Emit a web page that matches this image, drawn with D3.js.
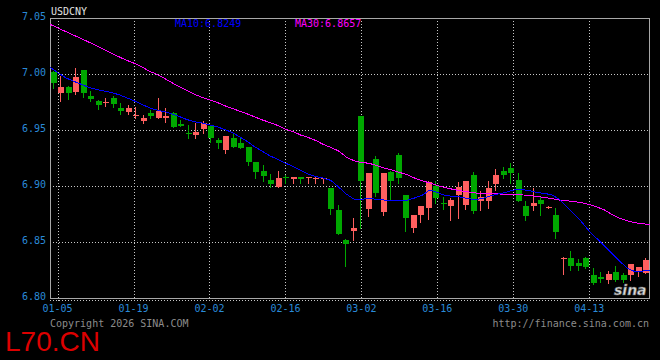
<!DOCTYPE html>
<html>
<head>
<meta charset="utf-8">
<script src="https://cdn.jsdelivr.net/npm/d3@7"></script>
<style>
  body { margin: 0; background: #000; }
  svg { display: block; }
  text { font-family: 'DejaVu Sans Mono', monospace; font-size: 10px; }
</style>
</head>
<body>
<svg id="chart" width="660" height="360"></svg>
<script>
var symbol = 'USDCNY'

var open = [7.0021, 6.9833, 6.9884, 6.9842, 7.0036, 6.9806, 6.9759, 6.9744, 6.9788, 6.9694,
  6.9663, 6.9625, 6.9583, 6.9652, 6.9604, 6.9604, 6.9655, 6.9554, 6.9476, 6.9455,
  6.9509, 6.9536, 6.9411, 6.9321, 6.9426, 6.9387, 6.9345, 6.9217, 6.9134, 6.9054,
  6.8988, 6.9080, 6.9063, 6.9083, 6.9069, 6.9070, 6.9068, 6.8985, 6.8786, 6.8518,
  6.8598, 6.9625, 6.8795, 6.9241, 6.8771, 6.9128, 6.9277, 6.8920, 6.8628, 6.8741,
  6.8806, 6.9000, 6.8846, 6.8824, 6.8920, 6.8830, 6.9098, 6.8866, 6.8866, 6.9018,
  6.9137, 6.9163, 6.9054, 6.8821, 6.8824, 6.8875, 6.8806, 6.8741, 6.8346, 6.8360,
  6.8310, 6.8360, 6.8205, 6.8190, 6.8160, 6.8235, 6.8205, 6.8205, 6.8229, 6.8220]

var high = [7.0025, 6.9985, 6.9893, 7.0054, 7.0040, 6.9848, 6.9765, 6.9786, 6.9806, 6.9744,
  6.9723, 6.9708, 6.9634, 6.9676, 6.9788, 6.9694, 6.9660, 6.9589, 6.9545, 6.9565,
  6.9583, 6.9540, 6.9429, 6.9446, 6.9476, 6.9426, 6.9350, 6.9217, 6.9187, 6.9107,
  6.9134, 6.9098, 6.9083, 6.9083, 6.9083, 6.9078, 6.9075, 6.8985, 6.8830, 6.8527,
  6.8714, 6.9625, 6.9116, 6.9270, 6.9116, 6.9130, 6.9292, 6.8920, 6.8741, 6.8824,
  6.9047, 6.9045, 6.8899, 6.8890, 6.9038, 6.9045, 6.9128, 6.8958, 6.9045, 6.9149,
  6.9173, 6.9203, 6.9113, 6.8866, 6.8985, 6.8904, 6.8821, 6.8801, 6.8363, 6.8420,
  6.8348, 6.8369, 6.8270, 6.8235, 6.8241, 6.8286, 6.8220, 6.8304, 6.8280, 6.8354]

var low = [6.9872, 6.9762, 6.9774, 6.9821, 6.9797, 6.9762, 6.9690, 6.9712, 6.9708, 6.9643,
  6.9643, 6.9604, 6.9565, 6.9604, 6.9604, 6.9574, 6.9525, 6.9538, 6.9431, 6.9431,
  6.9470, 6.9396, 6.9342, 6.9297, 6.9351, 6.9342, 6.9187, 6.9074, 6.9047, 6.8988,
  6.8988, 6.9030, 6.9024, 6.9024, 6.9024, 6.9024, 6.9024, 6.8750, 6.8571, 6.8286,
  6.8518, 6.8622, 6.8735, 6.8911, 6.8741, 6.8875, 6.9030, 6.8600, 6.8592, 6.8679,
  6.8705, 6.8846, 6.8795, 6.8696, 6.8717, 6.8795, 6.8762, 6.8786, 6.8806, 6.8964,
  6.9069, 6.9030, 6.8869, 6.8696, 6.8786, 6.8741, 6.8806, 6.8538, 6.8214, 6.8250,
  6.8250, 6.8270, 6.8122, 6.8146, 6.8137, 6.8154, 6.8146, 6.8160, 6.8196, 6.8220]

var close = [6.9922, 6.9884, 6.9828, 6.9973, 6.9830, 6.9779, 6.9726, 6.9753, 6.9735, 6.9672,
  6.9694, 6.9634, 6.9604, 6.9622, 6.9672, 6.9625, 6.9530, 6.9538, 6.9464, 6.9485,
  6.9565, 6.9431, 6.9381, 6.9446, 6.9351, 6.9342, 6.9217, 6.9128, 6.9092, 6.9018,
  6.9071, 6.9074, 6.9083, 6.9063, 6.9083, 6.9075, 6.9072, 6.8795, 6.8571, 6.8482,
  6.8628, 6.9047, 6.9116, 6.8938, 6.9116, 6.9047, 6.9074, 6.8717, 6.8741, 6.8824,
  6.9038, 6.8896, 6.8837, 6.8875, 6.8994, 6.9045, 6.8777, 6.8904, 6.8985, 6.9098,
  6.9098, 6.9119, 6.8869, 6.8735, 6.8851, 6.8839, 6.8815, 6.8592, 6.8354, 6.8288,
  6.8286, 6.8274, 6.8131, 6.8170, 6.8214, 6.8160, 6.8160, 6.8300, 6.8280, 6.8339]

var ma10 = [7.0060, 7.0013, 6.9969, 6.9938, 6.9911, 6.9884, 6.9864, 6.9850, 6.9835, 6.9817,
  6.9790, 6.9763, 6.9732, 6.9701, 6.9679, 6.9665, 6.9645, 6.9621, 6.9594, 6.9574,
  6.9563, 6.9545, 6.9529, 6.9504, 6.9478, 6.9438, 6.9397, 6.9348, 6.9308, 6.9268,
  6.9237, 6.9205, 6.9174, 6.9140, 6.9105, 6.9085, 6.9071, 6.9049, 6.8991, 6.8929,
  6.8884, 6.8881, 6.8890, 6.8880, 6.8875, 6.8875, 6.8866, 6.8871, 6.8893, 6.8917,
  6.8964, 6.8944, 6.8915, 6.8908, 6.8902, 6.8888, 6.8877, 6.8890, 6.8911, 6.8929,
  6.8942, 6.8964, 6.8969, 6.8960, 6.8944, 6.8933, 6.8924, 6.8884, 6.8817, 6.8750,
  6.8679, 6.8598, 6.8531, 6.8464, 6.8396, 6.8328, 6.8268, 6.8235, 6.8240, 6.8249]

var ma30 = [7.0444, 7.0413, 7.0381, 7.0350, 7.0320, 7.0288, 7.0256, 7.0221, 7.0188, 7.0156,
  7.0125, 7.0098, 7.0067, 7.0027, 7.0000, 6.9964, 6.9924, 6.9888, 6.9854, 6.9820,
  6.9792, 6.9770, 6.9747, 6.9717, 6.9692, 6.9668, 6.9643, 6.9616, 6.9589, 6.9565,
  6.9540, 6.9506, 6.9487, 6.9455, 6.9433, 6.9406, 6.9371, 6.9344, 6.9313, 6.9259,
  6.9226, 6.9210, 6.9203, 6.9183, 6.9161, 6.9143, 6.9121, 6.9103, 6.9071, 6.9047,
  6.9027, 6.9004, 6.8987, 6.8971, 6.8958, 6.8948, 6.8938, 6.8931, 6.8929, 6.8929,
  6.8927, 6.8924, 6.8922, 6.8915, 6.8908, 6.8899, 6.8888, 6.8875, 6.8868, 6.8861,
  6.8852, 6.8835, 6.8813, 6.8786, 6.8746, 6.8713, 6.8689, 6.8672, 6.8663, 6.8657]

// x axis labels sit on these candle indexes
var tickIndex = [1, 11, 21, 31, 41, 51, 61, 71]
var tickLabels = ['01-05', '01-19', '02-02', '02-16', '03-02', '03-16', '03-30', '04-13']
var priceTicks = [7.05, 7.00, 6.95, 6.90, 6.85, 6.80]

var svg = d3.select('#chart')
var plotLeft = 50
var plotRight = 650
var plotTop = 18
var plotBottom = 298
var n = close.length

var xBand = d3.scaleBand().domain(d3.range(n)).range([plotLeft, plotRight])
  .paddingInner(0.2).paddingOuter(0.1)
var xLine = d3.scaleLinear().domain([0, n - 1]).range([plotLeft, plotRight])
var y = d3.scaleLinear().domain([6.80, 7.05]).range([plotBottom, plotTop])

var g = svg.append('g').attr('shape-rendering', 'crispEdges')

// dotted grid
g.selectAll('.hgrid')
  .data(priceTicks.slice(1, -1))
  .enter()
  .append('line')
  .attr('x1', plotLeft)
  .attr('x2', plotRight)
  .attr('y1', (d) => Math.round(y(d)) + 0.5)
  .attr('y2', (d) => Math.round(y(d)) + 0.5)
  .attr('stroke', '#c8c8c8')
  .attr('stroke-dasharray', '1,2')

g.selectAll('.vgrid')
  .data(tickIndex)
  .enter()
  .append('line')
  .attr('x1', (d) => Math.round(xLine(d)) + 0.5)
  .attr('x2', (d) => Math.round(xLine(d)) + 0.5)
  .attr('y1', plotTop)
  .attr('y2', plotBottom + 3)
  .attr('stroke', '#c8c8c8')
  .attr('stroke-dasharray', '1,2')

g.append('line')
  .attr('x1', plotLeft)
  .attr('x2', plotRight)
  .attr('y1', plotBottom + 2.5)
  .attr('y2', plotBottom + 2.5)
  .attr('stroke', '#c8c8c8')
  .attr('stroke-dasharray', '1,2')

g.append('rect')
  .attr('x', plotLeft + 0.5)
  .attr('y', plotTop + 0.5)
  .attr('width', plotRight - plotLeft - 1)
  .attr('height', plotBottom - plotTop)
  .attr('fill', 'none')
  .attr('stroke', '#a8a8a8')

// candles
var candle = g.selectAll('.candle')
  .data(d3.range(n))
  .enter()
  .append('g')
  .attr('fill', (i) => close[i] >= open[i] ? '#ff5f5f' : '#00a800')
  .attr('stroke', (i) => close[i] >= open[i] ? '#ff5f5f' : '#00a800')

candle.append('line')
  .attr('x1', (i) => Math.round(xBand(i)) + 2.5)
  .attr('x2', (i) => Math.round(xBand(i)) + 2.5)
  .attr('y1', (i) => Math.round(y(high[i])))
  .attr('y2', (i) => Math.round(y(low[i])) + 1)

candle.append('rect')
  .attr('stroke', 'none')
  .attr('x', (i) => Math.round(xBand(i)))
  .attr('width', Math.round(xBand.bandwidth()))
  .attr('y', (i) => Math.round(y(Math.max(open[i], close[i]))))
  .attr('height', (i) => Math.max(1, Math.round(y(Math.min(open[i], close[i]))) - Math.round(y(Math.max(open[i], close[i])))))

// moving averages
var line = d3.line()
  .x((d, i) => xLine(i))
  .y((d) => y(d))

g.append('path')
  .attr('d', line(ma30))
  .attr('fill', 'none')
  .attr('stroke', '#ff00ff')

g.append('path')
  .attr('d', line(ma10))
  .attr('fill', 'none')
  .attr('stroke', '#0000ff')

// sina logo in the corner
svg.append('text')
  .attr('x', 614)
  .attr('y', 295)
  .attr('fill', '#dddddd')
  .attr('stroke', '#666')
  .attr('stroke-width', 0.6)
  .style('font-family', 'DejaVu Sans')
  .style('font-size', '14px')
  .style('font-weight', 'bold')
  .style('font-style', 'italic')
  .text('sina')

// texts
svg.append('text')
  .attr('x', plotLeft + 1)
  .attr('y', 15)
  .attr('fill', '#e0e0e0')
  .text(symbol)

svg.append('text')
  .attr('x', 175)
  .attr('y', 27)
  .attr('fill', '#0000ff')
  .text('MA10:' + ma10[n - 1].toFixed(4))

svg.append('text')
  .attr('x', 295)
  .attr('y', 27)
  .attr('fill', '#ff00ff')
  .text('MA30:' + ma30[n - 1].toFixed(4))

svg.selectAll('.ylabel')
  .data(priceTicks)
  .enter()
  .append('text')
  .attr('x', 46)
  .attr('y', (d) => y(d) + 2)
  .attr('text-anchor', 'end')
  .attr('fill', '#2a8ad8')
  .text((d) => d.toFixed(2))

svg.selectAll('.xlabel')
  .data(tickIndex)
  .enter()
  .append('text')
  .attr('x', (d) => xLine(d))
  .attr('y', 312)
  .attr('text-anchor', 'middle')
  .attr('fill', '#2a8ad8')
  .text((d, i) => tickLabels[i])

svg.append('text')
  .attr('x', plotLeft)
  .attr('y', 327)
  .attr('fill', '#8c8c8c')
  .text('Copyright 2026 SINA.COM')

svg.append('text')
  .attr('x', plotRight - 1)
  .attr('y', 327)
  .attr('text-anchor', 'end')
  .attr('fill', '#8c8c8c')
  .text('http://finance.sina.com.cn')

svg.append('text')
  .attr('x', 5)
  .attr('y', 351)
  .attr('fill', '#dd0000')
  .style('font-family', 'Liberation Sans')
  .style('font-size', '28px')
  .text('L70.CN')
</script>
</body>
</html>
